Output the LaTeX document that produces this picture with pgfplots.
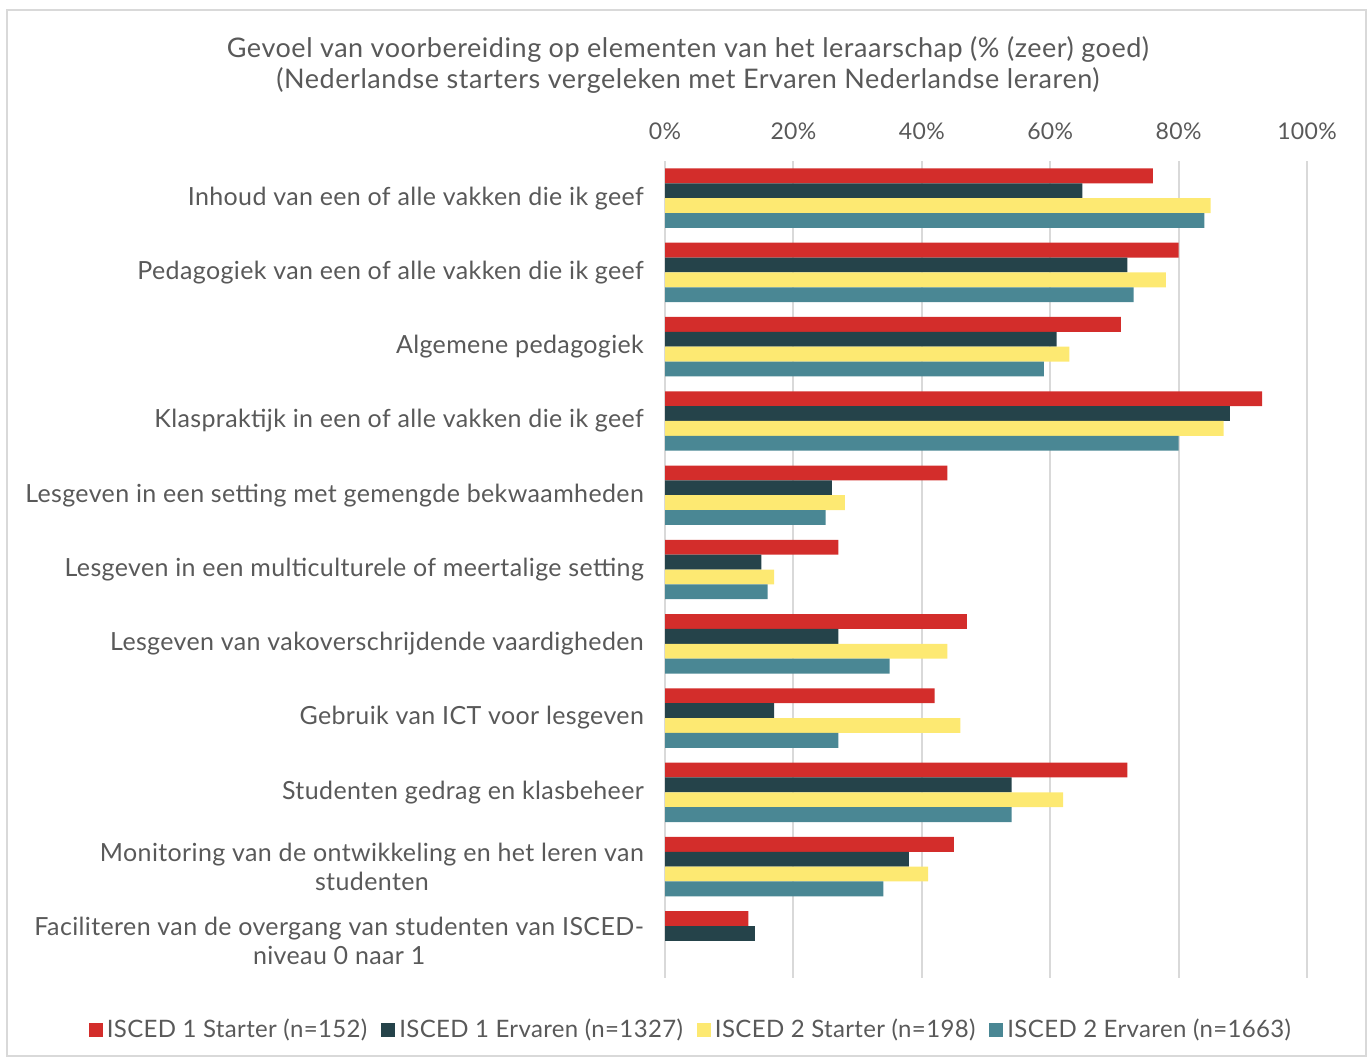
\documentclass[border=0pt]{standalone}
\usepackage{fontspec}
\setmainfont{Lato}
\newfontfamily\lblfont{Lato}[LetterSpace=1.5]
\newfontfamily\ttlfont{Lato}[LetterSpace=2]
\usepackage{pgfplots}
\pgfplotsset{compat=1.18}
\definecolor{cred}{HTML}{D32D2B}
\definecolor{cdark}{HTML}{25434A}
\definecolor{cyel}{HTML}{FDE972}
\definecolor{cteal}{HTML}{4A8794}
\definecolor{txt}{HTML}{595959}
\definecolor{gridc}{HTML}{D9D9D9}
\begin{document}
\begin{tikzpicture}
\useasboundingbox (0pt,0pt) rectangle (684pt,-529pt);
\draw[gridc, line width=0.7pt] (3.5pt,-5pt) rectangle (683pt,-528pt);
\node[txt, align=center, font=\ttlfont\fontsize{13.5}{15.5}\selectfont] at (344pt,-32.5pt)
  {Gevoel van voorbereiding op elementen van het leraarschap (\% (zeer) goed)\\(Nederlandse starters vergeleken met Ervaren Nederlandse leraren)};
\begin{axis}[
  at={(332.5pt,-489pt)}, anchor=south west,
  scale only axis, width=321pt, height=408.5pt,
  xbar=0pt, bar width=0.2,
  xmin=0, xmax=100, ymin=-0.5, ymax=10.5, y dir=reverse,
  axis line style={draw=none},
  xtick={0,20,40,60,80,100},
  xticklabel={\pgfmathprintnumber{\tick}\%},
  xticklabel pos=upper,
  xmajorgrids, grid style={gridc, line width=1pt},
  major tick length=0pt,
  ytick={0,...,10},
  yticklabels={
    {Inhoud van een of alle vakken die ik geef},
    {Pedagogiek van een of alle vakken die ik geef},
    {Algemene pedagogiek},
    {Klaspraktijk in een of alle vakken die ik geef},
    {Lesgeven in een setting met gemengde bekwaamheden},
    {Lesgeven in een multiculturele of meertalige setting},
    {Lesgeven van vakoverschrijdende vaardigheden},
    {Gebruik van ICT voor lesgeven},
    {Studenten gedrag en klasbeheer},
    {Monitoring van de ontwikkeling en het leren van\\studenten},
    {Faciliteren van de overgang van studenten van ISCED-\\niveau 0 naar 1}},
  yticklabel style={align=center, font=\lblfont\fontsize{12.5}{14.5}\selectfont, text=txt, xshift=-7pt},
  xticklabel style={font=\lblfont\fontsize{11.5}{14}\selectfont, text=txt, yshift=7pt},
  /pgf/number format/assume math mode=true,
  legend style={at={(0.042,-0.0636)}, anchor=center, draw=none, fill=none,
    legend columns=4, font=\lblfont\fontsize{12}{14}\selectfont, text=txt,
    /tikz/every even column/.append style={column sep=5pt}},
  legend image code/.code={\fill[#1] (0pt,-3.5pt) rectangle (7pt,3.5pt);},
  legend cell align=left,
]
\addplot[fill=cred, draw=none] coordinates {(76,0) (80,1) (71,2) (93,3) (44,4) (27,5) (47,6) (42,7) (72,8) (45,9) (13,10)};
\addlegendentry{ISCED 1 Starter (n=152)}
\addplot[fill=cdark, draw=none] coordinates {(65,0) (72,1) (61,2) (88,3) (26,4) (15,5) (27,6) (17,7) (54,8) (38,9) (14,10)};
\addlegendentry{ISCED 1 Ervaren (n=1327)}
\addplot[fill=cyel, draw=none] coordinates {(85,0) (78,1) (63,2) (87,3) (28,4) (17,5) (44,6) (46,7) (62,8) (41,9)};
\addlegendentry{ISCED 2 Starter (n=198)}
\addplot[fill=cteal, draw=none] coordinates {(84,0) (73,1) (59,2) (80,3) (25,4) (16,5) (35,6) (27,7) (54,8) (34,9)};
\addlegendentry{ISCED 2 Ervaren (n=1663)}
\end{axis}
\end{tikzpicture}
\end{document}
